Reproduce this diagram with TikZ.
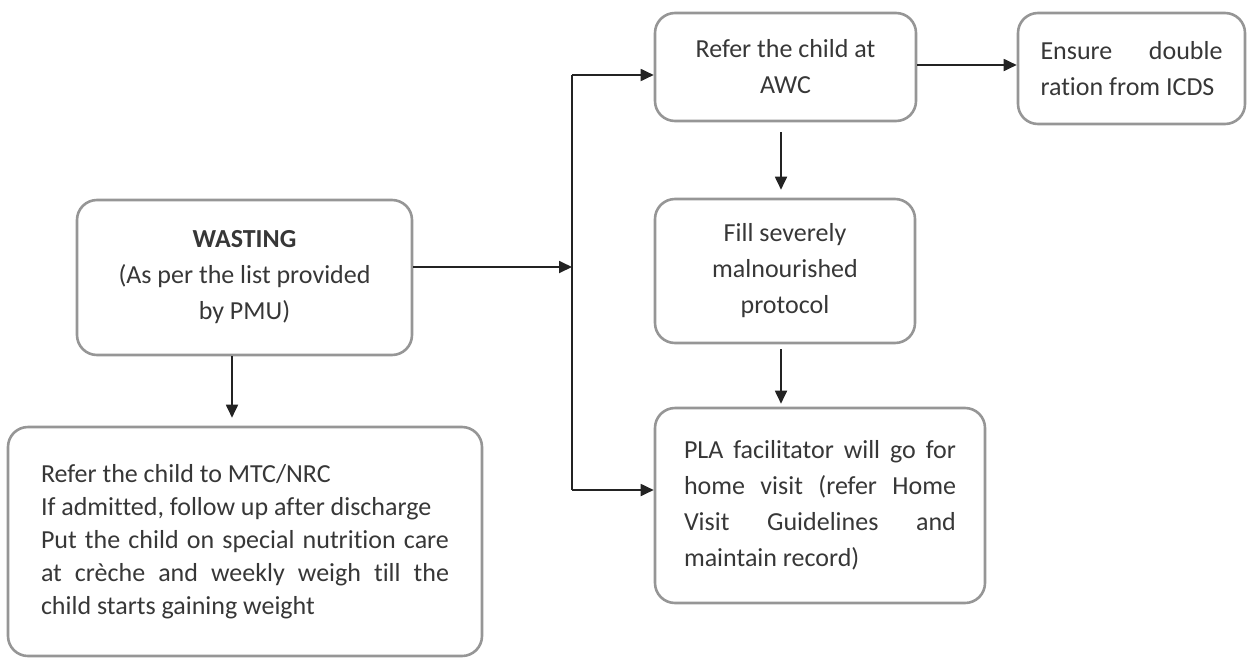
\documentclass[tikz,border=0pt]{standalone}
\usepackage{fontspec}
\setmainfont[Ligatures=NoCommon]{Carlito}
\usetikzlibrary{arrows.meta}
\definecolor{boxline}{RGB}{150,150,150}
\definecolor{txt}{RGB}{55,55,55}
\definecolor{arr}{RGB}{35,35,35}
\newcommand{\bodyfont}{\fontsize{26}{36}\selectfont}
\tikzset{
  box/.style={draw=boxline, line width=2.6pt, rounded corners=20pt, text=txt, align=center, inner sep=0pt, font=\bodyfont},
  conn/.style={draw=arr, line width=1.8pt, -{Triangle[length=13pt,width=12pt]}},
  plain/.style={draw=arr, line width=1.8pt}
}
\newcommand{\jbox}[2]{\parbox{#1}{\bodyfont\hyphenpenalty=10000\exhyphenpenalty=10000 #2}}
\begin{document}
\begin{tikzpicture}[x=1pt,y=-1pt]
\useasboundingbox (0,0) rectangle (1248,659);
\node[box, minimum width=335pt, minimum height=155pt] (wasting) at (244.5,277.5)
  {\textbf{WASTING}\\(As per the list provided\\by PMU)};
\node[box, minimum width=474pt, minimum height=229pt] (mtc) at (245,541.5)
  {\parbox{408pt}{\fontsize{26}{33}\selectfont\hyphenpenalty=10000\exhyphenpenalty=10000
   Refer the child to MTC/NRC\par
   If admitted, follow up after discharge\par
   Put the child on special nutrition care\linebreak at crèche and weekly weigh till the\linebreak child starts gaining weight}};
\node[box, minimum width=261pt, minimum height=108pt] (awc) at (785.5,67)
  {Refer the child at\\AWC};
\node[box, minimum width=227pt, minimum height=111pt] (ensure) at (1131.5,68.5)
  {\jbox{182pt}{Ensure double\linebreak ration from ICDS}};
\node[box, minimum width=260pt, minimum height=144pt] (fill) at (785,271)
  {Fill severely\\malnourished\\protocol};
\node[box, minimum width=330pt, minimum height=195pt] (pla) at (820,505.5)
  {\jbox{272pt}{PLA facilitator will go for\linebreak home visit (refer Home\linebreak Visit Guidelines and\linebreak maintain record)}};
\coordinate (junc) at (572,267);
\coordinate (top) at (572,75);
\coordinate (bot) at (572,490);
\draw[conn] (wasting.east |- junc) -- (junc);
\draw[plain] (top) -- (bot);
\draw[conn] (top) -- (top -| awc.west);
\draw[conn] (bot) -- (bot -| pla.west);
\draw[conn] (awc.east |- 0,65) -- (ensure.west |- 0,65);
\draw[conn, shorten <=10pt, shorten >=8pt] (awc.south -| 781,0) -- (fill.north -| 781,0);
\draw[conn, shorten <=5pt, shorten >=3pt] (fill.south -| 781,0) -- (pla.north -| 781,0);
\draw[conn, shorten >=8pt] (wasting.south -| 232,0) -- (mtc.north -| 232,0);
\end{tikzpicture}
\end{document}
